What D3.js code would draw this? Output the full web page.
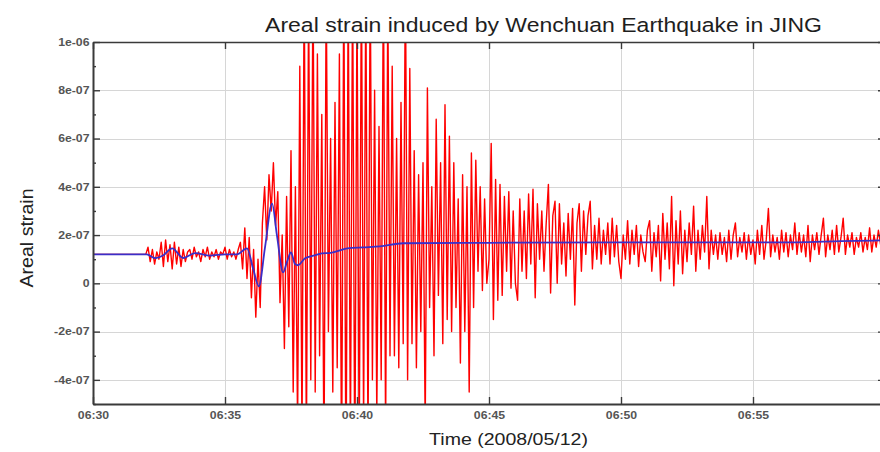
<!DOCTYPE html>
<html><head><meta charset="utf-8">
<script src="https://cdn.jsdelivr.net/npm/d3@7"></script>
<style>html,body{margin:0;padding:0;background:#fff;overflow:hidden}svg{display:block}</style>
</head><body><svg id="chart" width="880" height="452"></svg>
<script>
// ---------- data ----------
const TITLE = "Areal strain induced by Wenchuan Earthquake in JING";
const X_LABEL = "Time (2008/05/12)";
const Y_LABEL = "Areal strain";

const xTickMinutes = [0, 5, 10, 15, 20, 25];           // minutes after 06:30
const xTickLabels  = ["06:30", "06:35", "06:40", "06:45", "06:50", "06:55"];
const yTickValues  = [-4e-7, -2e-7, 0, 2e-7, 4e-7, 6e-7, 8e-7, 1e-6];
const yTickLabels  = ["-4e-07", "-2e-07", "0", "2e-07", "4e-07", "6e-07", "8e-07", "1e-06"];
const yMinorValues = [-5e-7, -3e-7, -1e-7, 1e-7, 3e-7, 5e-7, 7e-7, 9e-7];

const UNIT = 1e-8;          // strain values below are in units of 1e-8
const redStepSec = 5;       // red record: one value every 5 s from 06:30:00
const redValues = [
  12,12,12,12,12,12,12,12,12,12,12,12,12,12,12,12,12,12,12,12,12,12,12,12,
  12,15,9,14,8,13,10,17,7,18,9,16,6,17,8,15,7,14,9,13,
  14,10,15,11,13,9,14,11,15,10,13,11,14,10,13,12,15,10,14,11,13,10,14,
  17,6,23,2,19,-6,14,-14,10,-10,25,
  40,18,45,30,50,24,38,-8,20,-27,36,-18,55,-45,40,
  -60,90,-65,130,-70,120,-40,130,-45,95,-30,70,-75,125,-20,60,-45,75,-35,95,
  -80,130,-90,125,-70,130,-85,120,-75,130,-60,125,-70,130,-40,80,-55,65,-40,130,
  -65,120,-30,90,-30,60,-35,75,-25,130,-40,89,-25,55,-35,45,-20,50,-60,
  81,-10,40,-30,68,-5,50,-25,74,-15,61,-20,50,-10,35,-33,45,-20,40,-45,54,-10,51,5,40,-3,35,0,10,
  58,-15,43,-7,41,-5,36,5,38,-2,30,0,-7,35,5,30,2,37,8,39,-6,33,10,30,5,25,41,-4,28,34,
  0,33,8,25,3,29,10,31,-9,25,33,5,30,12,28,34,6,24,10,27,8,22,12,25,8,27,11,24,9,2,
  20,10,26,8,22,12,24,7,20,13,9,22,26,5,21,11,24,1,29,10,25,6,36,-1,26,8,30,4,22,9,
  25,12,32,5,22,10,24,13,36,6,22,12,20,10,21,12,19,9,22,10,20,25,11,19,13,21,10,20,12,18,
  8,22,12,24,10,18,31,11,20,13,19,10,22,13,21,11,20,14,25,12,21,13,20,11,24,9,20,14,21,12,
  20,27,11,20,14,22,12,24,13,19,27,12,20,15,21,12,19,15,21,13,19,14,23,13,20,15,22,16
];

// filtered (blue) trace: seconds after 06:30:00 and value (1e-8)
const blueTimes  = [0,122,141,159,180,205,232,266,300,327,350,364,377,391,407,418,432,441,450,459,466,482,504,520,540,578,614,652,705,900,1200,1600,1700,1800];
const blueValues = [12,12,10.4,11.5,14.5,10.5,12.5,11.5,12,12,14.5,6,-1.2,15,33,20,4.5,9,12.8,8,7.5,10.4,11.6,12.4,12.6,14.5,14.9,15.3,16.6,16.8,17,17,17.5,17.8];

// ---------- chart ----------
const T0 = Date.UTC(2008, 4, 12, 6, 30, 0);
const toDate = s => new Date(T0 + s * 1000);
const svg = d3.select("#chart");
const L = 93, R = 885, TOP = 42, BOT = 404;
const FONT = "'Liberation Sans', Arial, Helvetica, sans-serif";

const x = d3.scaleUtc().domain([toDate(0), toDate(30 * 60)]).range([L, R]);
const y = d3.scaleLinear().domain([-5e-7, 1e-6]).range([BOT, TOP]);
const xTickDates = xTickMinutes.map(m => toDate(m * 60));

// grid
const grid = svg.append("g").attr("stroke", "#d6d6d6").attr("stroke-width", 1);
grid.selectAll("line.h").data(yTickValues.filter(v => v < 1e-6)).join("line")
  .attr("x1", L).attr("x2", R).attr("y1", d => Math.round(y(d)) + 0.5).attr("y2", d => Math.round(y(d)) + 0.5);
grid.selectAll("line.v").data(xTickDates.slice(1)).join("line")
  .attr("y1", TOP).attr("y2", BOT).attr("x1", d => Math.round(x(d)) + 0.5).attr("x2", d => Math.round(x(d)) + 0.5);

svg.append("clipPath").attr("id", "plot").append("rect")
  .attr("x", L).attr("y", TOP).attr("width", R - L).attr("height", BOT - TOP);

const redData = redValues.map((v, i) => ({ t: i * redStepSec, v: v * UNIT }));
const blueData = blueTimes.map((t, i) => ({ t, v: blueValues[i] * UNIT }));

const plot = svg.append("g").attr("clip-path", "url(#plot)");
plot.append("path").datum(redData)
  .attr("fill", "none").attr("stroke", "#ff0000").attr("stroke-width", 1.4).attr("stroke-linejoin", "round")
  .attr("d", d3.line().x(d => x(toDate(d.t))).y(d => y(d.v)));
plot.append("path").datum(blueData)
  .attr("fill", "none").attr("stroke", "#3a2ec8").attr("stroke-width", 1.8)
  .attr("d", d3.line().curve(d3.curveMonotoneX).x(d => x(toDate(d.t))).y(d => y(d.v)));

// axes
function styleAxis(g, w) {
  g.select(".domain").attr("stroke", "#3a3a3a").attr("stroke-width", w);
  g.selectAll(".tick line").attr("stroke", "#3a3a3a").attr("stroke-width", 1.4);
  g.selectAll("text").attr("font-family", FONT).attr("font-weight", "bold")
    .attr("font-size", 10.5).attr("fill", "#555").attr("transform", "scale(1.17,1)");
}
const gb = svg.append("g").attr("transform", `translate(0,${BOT})`)
  .call(d3.axisBottom(x).tickValues(xTickDates).tickFormat((d, i) => xTickLabels[i])
    .tickSizeInner(-7).tickSizeOuter(0).tickPadding(8));
styleAxis(gb, 2);
const gt = svg.append("g").attr("transform", `translate(0,${TOP})`)
  .call(d3.axisTop(x).tickValues(xTickDates).tickFormat("").tickSizeInner(-7).tickSizeOuter(0));
styleAxis(gt, 1.6);
const gl = svg.append("g").attr("transform", `translate(${L},0)`)
  .call(d3.axisLeft(y).tickValues(yTickValues).tickFormat((d, i) => yTickLabels[i])
    .tickSizeInner(-7).tickSizeOuter(0).tickPadding(3));
styleAxis(gl, 2);
const glm = svg.append("g").attr("transform", `translate(${L},0)`)
  .call(d3.axisLeft(y).tickValues(yMinorValues).tickFormat("").tickSizeInner(-3).tickSizeOuter(0));
styleAxis(glm, 0);
glm.select(".domain").remove();
const gr = svg.append("g").attr("transform", `translate(${R},0)`)
  .call(d3.axisRight(y).tickValues(yTickValues).tickFormat("").tickSizeInner(-7).tickSizeOuter(0));
styleAxis(gr, 2);

// titles
svg.append("text").attr("transform", "translate(543.5,32) scale(1.18,1)")
  .attr("text-anchor", "middle").attr("font-family", FONT).attr("font-size", 19.5).attr("fill", "#1e1e1e")
  .text(TITLE);
svg.append("text").attr("transform", "translate(508.5,445) scale(1.15,1)")
  .attr("text-anchor", "middle").attr("font-family", FONT).attr("font-size", 17).attr("fill", "#222")
  .text(X_LABEL);
svg.append("text").attr("transform", "translate(33,238) rotate(-90) scale(1.12,1)")
  .attr("text-anchor", "middle").attr("font-family", FONT).attr("font-size", 17.5).attr("fill", "#222")
  .text(Y_LABEL);
</script></body></html>
